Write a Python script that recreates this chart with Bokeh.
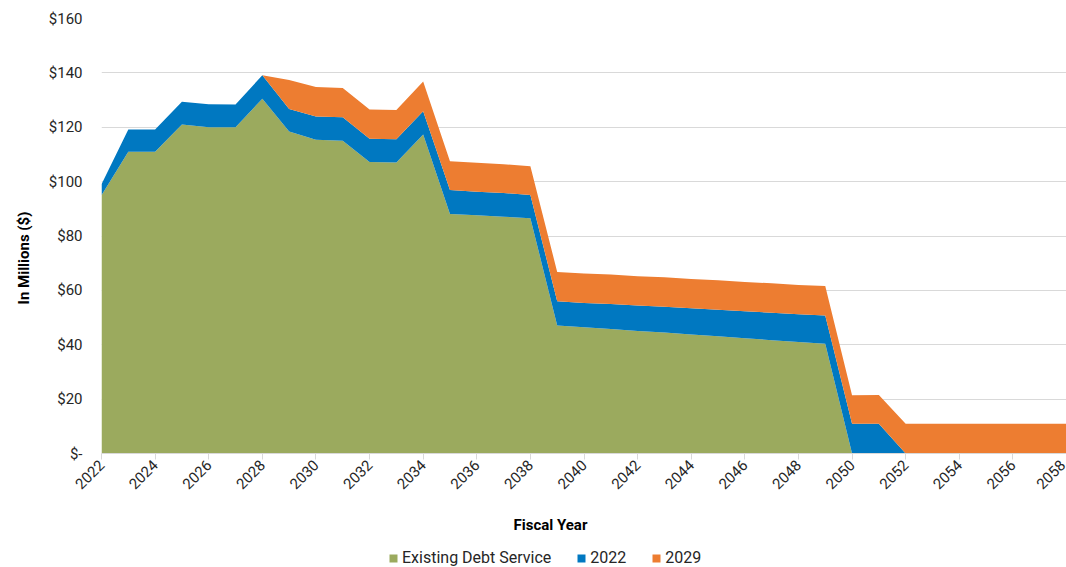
import math
from bokeh.plotting import figure
from bokeh.layouts import column
from bokeh.models import (ColumnDataSource, Range1d, FixedTicker, CustomJSTickFormatter,
                          Legend, LegendItem, Title)
from bokeh.embed import file_html
from bokeh.resources import INLINE

years = list(range(2022, 2059))
existing = [95.0, 111.0, 111.0, 121.0, 120.0, 120.0, 130.5, 118.4, 115.4, 115.0,
            107.2, 107.0, 117.3, 88.1, 87.6, 87.1, 86.5, 47.1, 46.4, 45.8,
            45.1, 44.5, 43.8, 43.1, 42.4, 41.7, 41.0, 40.4,
            0, 0, 0, 0, 0, 0, 0, 0, 0]
series_2022 = [4.0, 8.2, 8.2, 8.4, 8.5, 8.4, 8.6, 8.3, 8.6, 8.7,
               8.6, 8.6, 8.6, 8.8, 8.7, 8.7, 8.6, 8.9, 9.0, 9.2,
               9.3, 9.5, 9.6, 9.8, 9.9, 10.1, 10.2, 10.4,
               10.9, 10.9, 0, 0, 0, 0, 0, 0, 0]
series_2029 = [0, 0, 0, 0, 0, 0, 0, 10.7, 10.8, 10.7,
               10.7, 10.7, 10.9, 10.6, 10.6, 10.6, 10.6, 10.8, 10.8, 10.8,
               10.8, 10.8, 10.8, 10.8, 10.8, 10.8, 10.8, 10.8,
               10.5, 10.6, 10.9, 10.9, 10.9, 10.9, 10.9, 10.9, 10.9]
series_names = ["Existing Debt Service", "2022", "2029"]
colors = ["#9BAA5E", "#0078C1", "#ED7D31"]
x_ticks = list(range(2022, 2059, 2))
y_ticks = [0, 20, 40, 60, 80, 100, 120, 140, 160]

src = ColumnDataSource(dict(year=years, existing=existing, s2022=series_2022, s2029=series_2029))

FONT = "Roboto"
TXT = "#262626"

p = figure(width=1066, height=549, output_backend="svg", toolbar_location=None,
           x_range=Range1d(2022, 2058), y_range=Range1d(0, 160),
           min_border_left=101, min_border_right=0, min_border_top=18, min_border_bottom=96)
p.outline_line_color = None

rs = p.varea_stack(stackers=["existing", "s2022", "s2029"], x="year", color=colors, source=src)

p.xaxis.ticker = FixedTicker(ticks=x_ticks)
p.xaxis.major_label_orientation = math.pi / 4
p.xaxis.axis_line_color = "#D9D9D9"
p.xaxis.major_tick_line_color = "#D9D9D9"
p.xaxis.major_tick_out = 6
p.xaxis.major_tick_in = 0
p.xaxis.minor_tick_line_color = None
p.xaxis.major_label_text_font = FONT
p.xaxis.major_label_text_font_size = "15px"
p.xaxis.major_label_text_color = TXT
p.xaxis.major_label_standoff = 3

p.yaxis.ticker = FixedTicker(ticks=y_ticks)
p.yaxis.formatter = CustomJSTickFormatter(code="return tick == 0 ? '$-' : '$' + tick;")
p.yaxis.axis_line_color = None
p.yaxis.major_tick_line_color = None
p.yaxis.minor_tick_line_color = None
p.yaxis.major_tick_out = 0
p.yaxis.major_tick_in = 0
p.yaxis.major_label_standoff = 19
p.yaxis.major_label_text_font = FONT
p.yaxis.major_label_text_font_size = "15px"
p.yaxis.major_label_text_color = TXT

p.xgrid.grid_line_color = None
p.ygrid.grid_line_color = "#D9D9D9"
p.ygrid.grid_line_width = 1

xt = Title(text="Fiscal Year", align="left", offset=412, text_font=FONT,
           text_font_size="15px", text_font_style="bold", text_color="#000000", standoff=32)
p.add_layout(xt, "below")
yt = Title(text="In Millions ($)", align="left", offset=149, text_font=FONT,
           text_font_size="15px", text_font_style="bold", text_color="#000000", standoff=22,
           vertical_align="top")
p.add_layout(yt, "left")

# legend strip
lg = figure(width=1066, height=18, output_backend="svg", toolbar_location=None,
            x_axis_type=None, y_axis_type=None, x_range=Range1d(0, 1), y_range=Range1d(0, 1),
            min_border=0)
lg.outline_line_color = None
lg.xgrid.grid_line_color = None
lg.ygrid.grid_line_color = None
dummies = [lg.varea(x=[5, 6], y1=[5, 5], y2=[6, 6], color=c) for c in colors]
legend = Legend(items=[LegendItem(label=n, renderers=[r]) for n, r in zip(series_names, dummies)],
                orientation="horizontal", location=(287, 0))
legend.label_text_font = FONT
legend.label_text_font_size = "16px"
legend.label_text_color = TXT
legend.glyph_width = 10
legend.glyph_height = 10
legend.spacing = 25
legend.label_standoff = 4
legend.padding = 0
legend.margin = 0
legend.border_line_color = None
legend.background_fill_alpha = 0
lg.add_layout(legend, "center")

layout = column(p, lg, spacing=0)
open("out.html", "w").write(file_html(layout, INLINE))
